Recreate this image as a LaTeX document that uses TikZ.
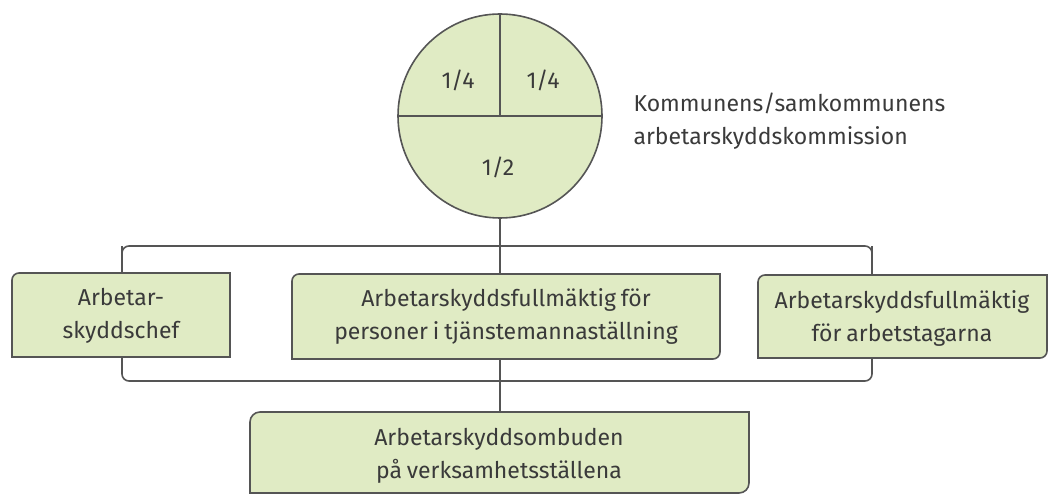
\documentclass[tikz,border=0pt]{standalone}
\usepackage{fontspec}
\setmainfont{Fira Sans}[WordSpace=0.8]
\definecolor{boxfill}{HTML}{E0EBC4}
\definecolor{linec}{HTML}{555555}
\definecolor{txt}{HTML}{3A3A3A}
\begin{document}
\begin{tikzpicture}[x=1pt,y=-1pt,
  line/.style={draw=linec,line width=1.6pt},
  boxs/.style={fill=boxfill,draw=linec,line width=1.6pt},
  lbl/.style={text=txt,font=\fontsize{23}{33}\selectfont,align=center},
  ]
\useasboundingbox (0,0) rectangle (1048,494);
% bracket behind
\draw[line,rounded corners=7pt] (122,246) rectangle (872,381);
% coordinates
\coordinate (tjtop) at (500,274);
\coordinate (tjbot) at (500,359);
\coordinate (ombtop) at (500,412);
\coordinate (bkl) at (122,246);
\coordinate (chtop) at (122,273);
\coordinate (bkr) at (872,246);
\coordinate (artop) at (872,275);
% left box
\path[boxs] (12,357) -- (12,280) arc[start angle=180,end angle=270,radius=7] -- (230,273) -- (230,357) -- cycle;
\node[lbl] (chef) at (121,316) {Arbetar-\\skyddschef};
% middle box
\path[boxs] (292,359) -- (292,281) arc[start angle=180,end angle=270,radius=7] -- (720,274) -- (720,352) arc[start angle=0,end angle=90,radius=7] -- cycle;
\node[lbl] (tj) at (506,316) {Arbetarskyddsfullmäktig för\\personer i tjänstemannaställning};
% right box
\path[boxs] (758,358) -- (758,282) arc[start angle=180,end angle=270,radius=7] -- (1047,275) -- (1047,351) arc[start angle=0,end angle=90,radius=7] -- cycle;
\node[lbl] (arb) at (902,318) {Arbetarskyddsfullmäktig\\för arbetstagarna};
% bottom box
\path[boxs] (250,493) -- (250,422) arc[start angle=180,end angle=270,radius=10] -- (749,412) -- (749,483) arc[start angle=0,end angle=90,radius=10] -- cycle;
\node[lbl] (omb) at (499,456) {Arbetarskyddsombuden\\på verksamhetsställena};
% circle
\node[circle,minimum size=204pt,inner sep=0pt,boxs] (circ) at (500,116) {};
\draw[line] (circ.west) -- (circ.east);
\draw[line] (circ.north) -- (circ.center);
\node[lbl] (q1) at (458,80) {1/4};
\node[lbl] (q2) at (543,80) {1/4};
\node[lbl] (h) at (498,167) {1/2};
\node[lbl,align=left,anchor=west] (kom) at (630,121) {Kommunens/samkommunens\\arbetarskyddskommission};
% connectors
\draw[line] (circ.south) -- (tjtop);
\draw[line] (tjbot) -- (ombtop);
\draw[line] (bkl) -- (chtop);
\draw[line] (bkr) -- (artop);
\end{tikzpicture}
\end{document}
